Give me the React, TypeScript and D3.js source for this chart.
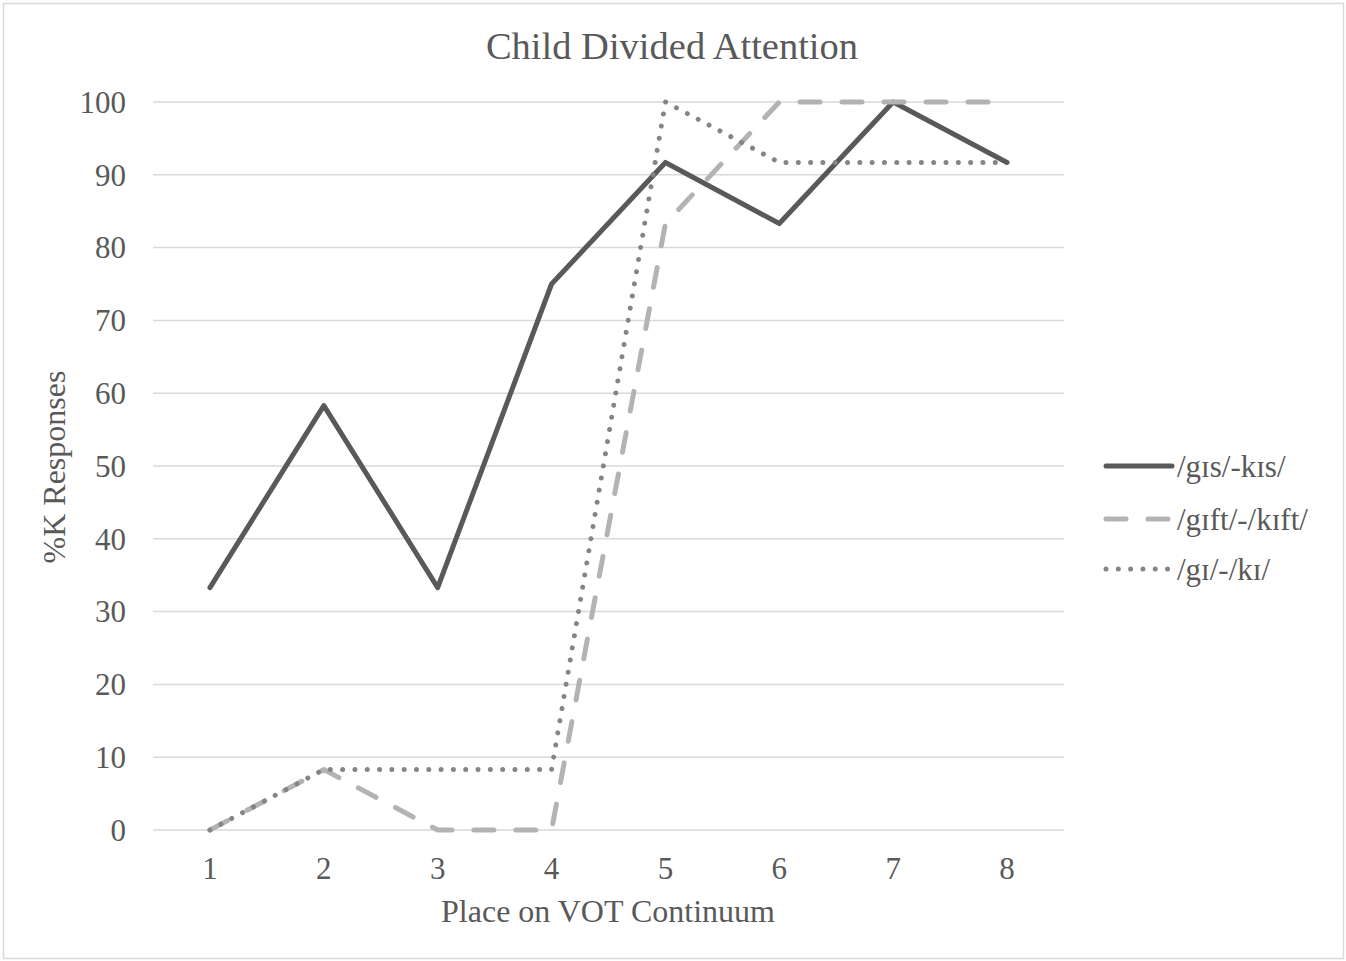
import React from "react";
import * as d3 from "d3";

const categories = [1, 2, 3, 4, 5, 6, 7, 8];
const gisKis = [33.3, 58.3, 33.3, 75, 91.7, 83.3, 100, 91.7];
const giftKift = [0, 8.3, 0, 0, 83.3, 100, 100, 100];
const giKi = [0, 8.3, 8.3, 8.3, 100, 91.7, 91.7, 91.7];
const yTicks = [0, 10, 20, 30, 40, 50, 60, 70, 80, 90, 100];
const seriesNames = ["/gɪs/-kɪs/", "/gɪft/-/kɪft/", "/gɪ/-/kɪ/"];

const W = 1346;
const H = 961;
const plot = { left: 153, right: 1064, top: 102, bottom: 830 };
const font = "'Liberation Serif', 'Times New Roman', serif";
const textColor = "#595959";

const seriesStyles = [
  { color: "#595959", width: 5, dash: undefined as string | undefined },
  { color: "#b3b3b3", width: 5, dash: "20 22" },
  { color: "#858585", width: 5, dash: "0.01 12.3" },
];

export default function App() {
  const x = d3
    .scaleBand<number>()
    .domain(categories)
    .range([plot.left, plot.right]);
  const y = d3.scaleLinear().domain([0, 100]).range([plot.bottom, plot.top]);
  const cx = (c: number) => (x(c) ?? 0) + x.bandwidth() / 2;

  const line = d3
    .line<number>()
    .x((_, i) => cx(categories[i]))
    .y((v) => y(v));

  const data = [gisKis, giftKift, giKi];
  const legendY = [466, 519, 569];

  return (
    <div>
      <style>{`body{margin:0}`}</style>
      <svg width={W} height={H} style={{ display: "block" }}>
        <rect x={0} y={0} width={W} height={H} fill="#fff" />
        <rect
          x={3.5}
          y={3.5}
          width={W - 3.5 - 2.5}
          height={H - 3.5 - 2.5}
          fill="none"
          stroke="#d9d9d9"
          strokeWidth={1.5}
        />
        <text
          x={672}
          y={59}
          textAnchor="middle"
          fontFamily={font}
          fontSize={38.5}
          fill={textColor}
        >
          Child Divided Attention
        </text>
        {yTicks.map((t) => (
          <g key={t}>
            <line
              x1={plot.left}
              x2={plot.right}
              y1={y(t)}
              y2={y(t)}
              stroke="#d9d9d9"
              strokeWidth={1.5}
            />
            <text
              x={126}
              y={y(t)}
              dy="0.35em"
              textAnchor="end"
              fontFamily={font}
              fontSize={31}
              fill={textColor}
            >
              {t}
            </text>
          </g>
        ))}
        {categories.map((c) => (
          <text
            key={c}
            x={cx(c)}
            y={879}
            textAnchor="middle"
            fontFamily={font}
            fontSize={31}
            fill={textColor}
          >
            {c}
          </text>
        ))}
        <text
          x={608}
          y={922}
          textAnchor="middle"
          fontFamily={font}
          fontSize={32}
          fill={textColor}
        >
          Place on VOT Continuum
        </text>
        <text
          transform={`translate(65,467) rotate(-90)`}
          textAnchor="middle"
          fontFamily={font}
          fontSize={32}
          fill={textColor}
        >
          %K Responses
        </text>
        {data.map((vals, i) => (
          <path
            key={i}
            d={line(vals) ?? ""}
            fill="none"
            stroke={seriesStyles[i].color}
            strokeWidth={seriesStyles[i].width}
            strokeDasharray={seriesStyles[i].dash}
            strokeLinecap="round"
            strokeLinejoin="round"
          />
        ))}
        {seriesNames.map((name, i) => (
          <g key={name}>
            <line
              x1={1106}
              x2={1172}
              y1={legendY[i]}
              y2={legendY[i]}
              stroke={seriesStyles[i].color}
              strokeWidth={seriesStyles[i].width}
              strokeDasharray={seriesStyles[i].dash}
              strokeLinecap="round"
            />
            <text
              x={1177}
              y={legendY[i]}
              dy="0.35em"
              fontFamily={font}
              fontSize={31}
              fill={textColor}
            >
              {name}
            </text>
          </g>
        ))}
      </svg>
    </div>
  );
}
